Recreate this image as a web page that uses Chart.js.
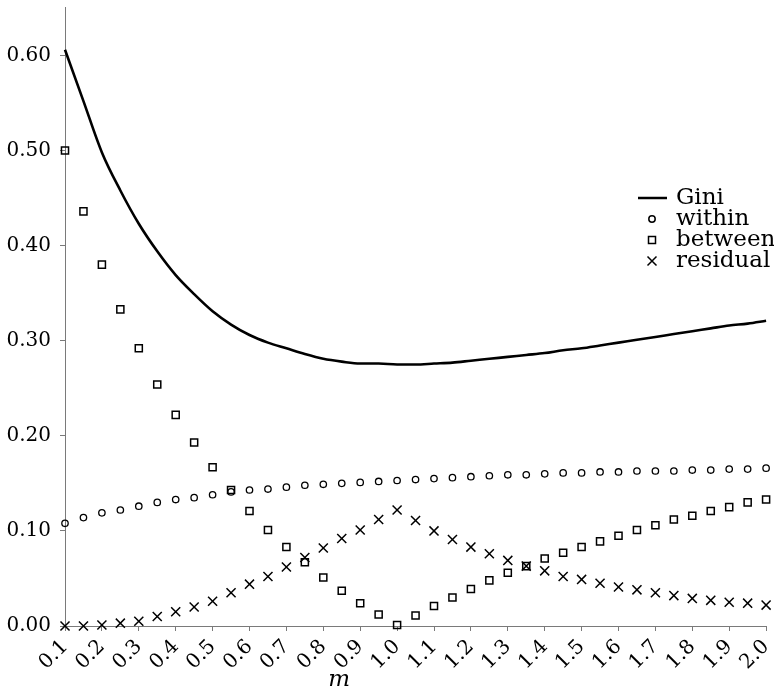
<!DOCTYPE html>
<html>
<head>
<meta charset="utf-8">
<script src="https://cdn.jsdelivr.net/npm/chart.js@4.4.1/dist/chart.umd.min.js"></script>
<style>
  html, body { margin: 0; padding: 0; background: #fff; }
  #wrap { width: 774px; height: 692px; }
</style>
</head>
<body>
<div id="wrap"><canvas id="c" width="774" height="692"></canvas></div>
<script>
const mValues = [0.10,0.15,0.20,0.25,0.30,0.35,0.40,0.45,0.50,0.55,0.60,0.65,0.70,0.75,0.80,0.85,0.90,0.95,1.00,
  1.05,1.10,1.15,1.20,1.25,1.30,1.35,1.40,1.45,1.50,1.55,1.60,1.65,1.70,1.75,1.80,1.85,1.90,1.95,2.00];
const gini = [0.606,0.552,0.498,0.458,0.423,0.394,0.369,0.349,0.331,0.317,0.306,0.298,0.292,0.286,0.281,0.278,0.276,0.276,0.275,
  0.275,0.276,0.277,0.279,0.281,0.283,0.285,0.287,0.290,0.292,0.295,0.298,0.301,0.304,0.307,0.310,0.313,0.316,0.318,0.321];
const within = [0.108,0.114,0.119,0.122,0.126,0.130,0.133,0.135,0.138,0.141,0.143,0.144,0.146,0.148,0.149,0.150,0.151,0.152,0.153,
  0.154,0.155,0.156,0.157,0.158,0.159,0.159,0.160,0.161,0.161,0.162,0.162,0.163,0.163,0.163,0.164,0.164,0.165,0.165,0.166];
const between = [0.500,0.436,0.380,0.333,0.292,0.254,0.222,0.193,0.167,0.143,0.121,0.101,0.083,0.067,0.051,0.037,0.024,0.012,0.001,
  0.011,0.021,0.030,0.039,0.048,0.056,0.063,0.071,0.077,0.083,0.089,0.095,0.101,0.106,0.112,0.116,0.121,0.125,0.130,0.133];
const residual = [0.000,0.000,0.001,0.003,0.005,0.010,0.015,0.020,0.026,0.035,0.044,0.052,0.062,0.072,0.082,0.092,0.101,0.112,0.122,
  0.111,0.100,0.091,0.083,0.076,0.069,0.063,0.058,0.052,0.049,0.045,0.041,0.038,0.035,0.032,0.029,0.027,0.025,0.024,0.022];
const seriesLabels = ['Gini','within','between','residual'];
const xTickLabels = ['0.1','0.2','0.3','0.4','0.5','0.6','0.7','0.8','0.9','1.0','1.1','1.2','1.3','1.4','1.5','1.6','1.7','1.8','1.9','2.0'];
const yTickLabels = ['0.00','0.10','0.20','0.30','0.40','0.50','0.60'];
const xAxisTitle = 'm';

const FONT = '"DejaVu Serif", "Liberation Serif", serif';
const pts = arr => mValues.map((m, i) => ({ x: m, y: arr[i] }));

const legendPlugin = {
  id: 'customLegend',
  afterDraw(chart) {
    const ctx = chart.ctx;
    ctx.save();
    ctx.fillStyle = '#000';
    ctx.strokeStyle = '#000';
    ctx.font = '23px ' + FONT;
    ctx.textBaseline = 'alphabetic';
    ctx.textAlign = 'left';
    const baselines = [204, 225, 246, 267];
    const mx = 652, tx = 676;
    chart.data.datasets.forEach((ds, i) => {
      const yb = baselines[i];
      const cy = yb - 6;
      ctx.lineWidth = 1.5;
      if (ds.pointStyle === 'line') {
        ctx.lineWidth = 2.5;
        ctx.beginPath(); ctx.moveTo(638, yb - 6); ctx.lineTo(667, yb - 6); ctx.stroke();
      } else if (ds.pointStyle === 'circle') {
        ctx.beginPath(); ctx.arc(mx, cy, 3.2, 0, Math.PI * 2); ctx.stroke();
      } else if (ds.pointStyle === 'rect') {
        ctx.strokeRect(mx - 3.5, cy - 3.5, 7, 7);
      } else if (ds.pointStyle === 'crossRot') {
        ctx.beginPath();
        ctx.moveTo(mx - 4.5, cy - 4.5); ctx.lineTo(mx + 4.5, cy + 4.5);
        ctx.moveTo(mx - 4.5, cy + 4.5); ctx.lineTo(mx + 4.5, cy - 4.5);
        ctx.stroke();
      }
      ctx.fillText(ds.label, tx, yb);
    });
    // axis title
    ctx.font = 'italic 23px ' + FONT;
    ctx.textAlign = 'center';
    const xs = chart.scales.x;
    ctx.fillText(xAxisTitle, xs.getPixelForValue(0.843), 686);
    ctx.restore();
  }
};

const axisColor = '#7a7a7a';

new Chart(document.getElementById('c'), {
  type: 'line',
  data: {
    datasets: [
      { label: seriesLabels[0], data: pts(gini), borderColor: '#000', borderWidth: 2.6,
        pointRadius: 0, pointStyle: 'line', cubicInterpolationMode: 'monotone', fill: false, clip: false, order: 4 },
      { label: seriesLabels[1], data: pts(within), showLine: false, pointStyle: 'circle', pointRadius: 3.2,
        pointBorderColor: '#000', pointBackgroundColor: 'rgba(255,255,255,0)', pointBorderWidth: 1.3, clip: false },
      { label: seriesLabels[2], data: pts(between), showLine: false, pointStyle: 'rect', pointRadius: 5,
        pointBorderColor: '#000', pointBackgroundColor: 'rgba(255,255,255,0)', pointBorderWidth: 1.5, clip: false },
      { label: seriesLabels[3], data: pts(residual), showLine: false, pointStyle: 'crossRot', pointRadius: 6.4,
        pointBorderColor: '#000', pointBorderWidth: 1.5, clip: false }
    ]
  },
  options: {
    responsive: false,
    animation: false,
    events: [],
    layout: { padding: { top: 5, right: 6, left: 0, bottom: 0 } },
    plugins: { legend: { display: false }, tooltip: { enabled: false } },
    scales: {
      x: {
        type: 'linear', min: 0.1, max: 2.0,
        afterBuildTicks: s => { s.ticks = xTickLabels.map(v => ({ value: parseFloat(v) })); },
        afterFit: s => { s.height = 66; s.paddingLeft = 0; s.paddingRight = 0; },
        ticks: {
          callback: (v, i) => xTickLabels[i],
          autoSkip: false, minRotation: 45, maxRotation: 45,
          color: '#000', font: { family: FONT, size: 20 }, padding: 4
        },
        grid: { display: true, drawOnChartArea: false, drawTicks: true, tickLength: 5, color: axisColor },
        border: { display: true, color: axisColor, width: 1 }
      },
      y: {
        type: 'linear', min: 0, max: 0.65,
        afterBuildTicks: s => { s.ticks = yTickLabels.map(v => ({ value: parseFloat(v) })); },
        afterFit: s => { s.width = 65; s.paddingTop = 0; s.paddingBottom = 0; },
        ticks: {
          callback: (v, i) => yTickLabels[i],
          color: '#000', font: { family: FONT, size: 20 }, padding: 9
        },
        grid: { display: true, drawOnChartArea: false, drawTicks: true, tickLength: 5, color: axisColor },
        border: { display: true, color: axisColor, width: 1 }
      }
    }
  },
  plugins: [legendPlugin]
});
</script>
</body>
</html>
